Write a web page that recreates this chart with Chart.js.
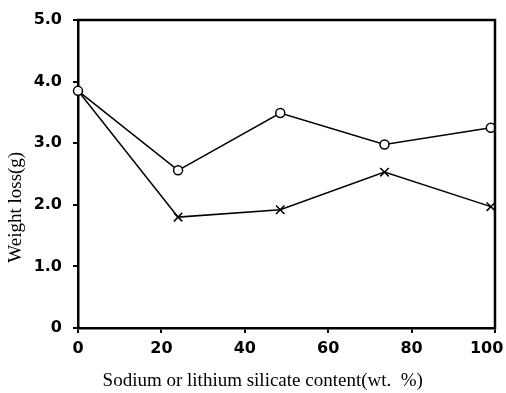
<!DOCTYPE html>
<html>
<head>
<meta charset="utf-8">
<script src="https://cdn.jsdelivr.net/npm/chart.js@4"></script>
<style>
  html, body { margin: 0; padding: 0; background: #fff; }
  #chart { display: block; }
</style>
</head>
<body>
<canvas id="chart" width="506" height="393"></canvas>
<script>
// silicate content (wt. %)
const silicateContent = [0, 24, 48.5, 73.5, 99];
// weight loss (g), open circles and crosses
const lossCircle = [3.85, 2.56, 3.49, 2.98, 3.25];
const lossCross = [3.85, 1.8, 1.92, 2.53, 1.97];

const xTickLabels = ['0', '20', '40', '60', '80', '100'];
const yTickLabels = ['0', '1.0', '2.0', '3.0', '4.0', '5.0'];

const xTitle = 'Sodium or lithium silicate content(wt.  %)';
const yTitle = 'Weight loss(g)';

const toPoints = ys => ys.map((y, i) => ({ x: silicateContent[i], y: y }));

// top and right sides of the box
const frame = {
    id: 'frame',
    afterDraw(chart) {
        const { ctx, chartArea: a } = chart;
        ctx.save();
        ctx.strokeStyle = '#000';
        ctx.lineWidth = 2.5;
        ctx.beginPath();
        ctx.moveTo(a.left - 1, a.top);
        ctx.lineTo(a.right, a.top);
        ctx.lineTo(a.right, a.bottom + 1);
        ctx.stroke();
        ctx.restore();
    }
};

const tickFont = { family: 'DejaVu Sans', size: 16, weight: 'bold' };
const titleFont = { family: 'Liberation Serif', size: 19 };

new Chart(document.getElementById('chart'), {
    type: 'line',
    data: {
        datasets: [
            {
                data: toPoints(lossCircle),
                borderColor: '#000', borderWidth: 1.5,
                pointStyle: 'circle', pointRadius: 4.5,
                pointBackgroundColor: '#fff', pointBorderColor: '#000', pointBorderWidth: 1.5,
                tension: 0, clip: false
            },
            {
                data: toPoints(lossCross),
                borderColor: '#000', borderWidth: 1.5,
                pointStyle: 'crossRot', pointRadius: ctx => ctx.dataIndex === 0 ? 0 : 6,
                pointBorderColor: '#000', pointBorderWidth: 1.5,
                tension: 0, clip: false
            }
        ]
    },
    options: {
        responsive: false,
        animation: false,
        layout: { padding: { top: 20, right: 11, left: 0, bottom: 0 } },
        plugins: { legend: { display: false }, tooltip: { enabled: false } },
        scales: {
            x: {
                type: 'linear', min: 0, max: 100,
                afterFit: s => { s.height = 65; s.paddingRight = 0; s.paddingLeft = 0; },
                ticks: {
                    stepSize: 20, color: '#000', font: tickFont, padding: 6, maxRotation: 0,
                    // last label pulled in a little so it stays inside the picture
                    callback: (v, i, ticks) => i === ticks.length - 1 ? xTickLabels[i] + '\u00a0\u00a0\u00a0' : xTickLabels[i]
                },
                grid: { display: true, drawOnChartArea: false, tickLength: 5, color: '#000', lineWidth: 2 },
                border: { display: true, color: '#000', width: 2.5 },
                title: {
                    display: true, text: xTitle + '\u00a0'.repeat(10), color: '#000', font: titleFont,
                    padding: { top: 0, bottom: 1 }
                }
            },
            y: {
                min: 0, max: 5,
                afterFit: s => { s.width = 78; s.paddingTop = 0; s.paddingBottom = 0; },
                ticks: {
                    stepSize: 1, color: '#000', font: tickFont, padding: 11,
                    callback: (v, i) => yTickLabels[i]
                },
                grid: { display: true, drawOnChartArea: false, tickLength: 5, color: '#000', lineWidth: 2 },
                border: { display: true, color: '#000', width: 2.5 },
                title: {
                    display: true, text: yTitle + '\u00a0'.repeat(14), color: '#000', font: titleFont,
                    padding: { top: 5, bottom: 0 }
                }
            }
        }
    },
    plugins: [frame]
});
</script>
</body>
</html>
